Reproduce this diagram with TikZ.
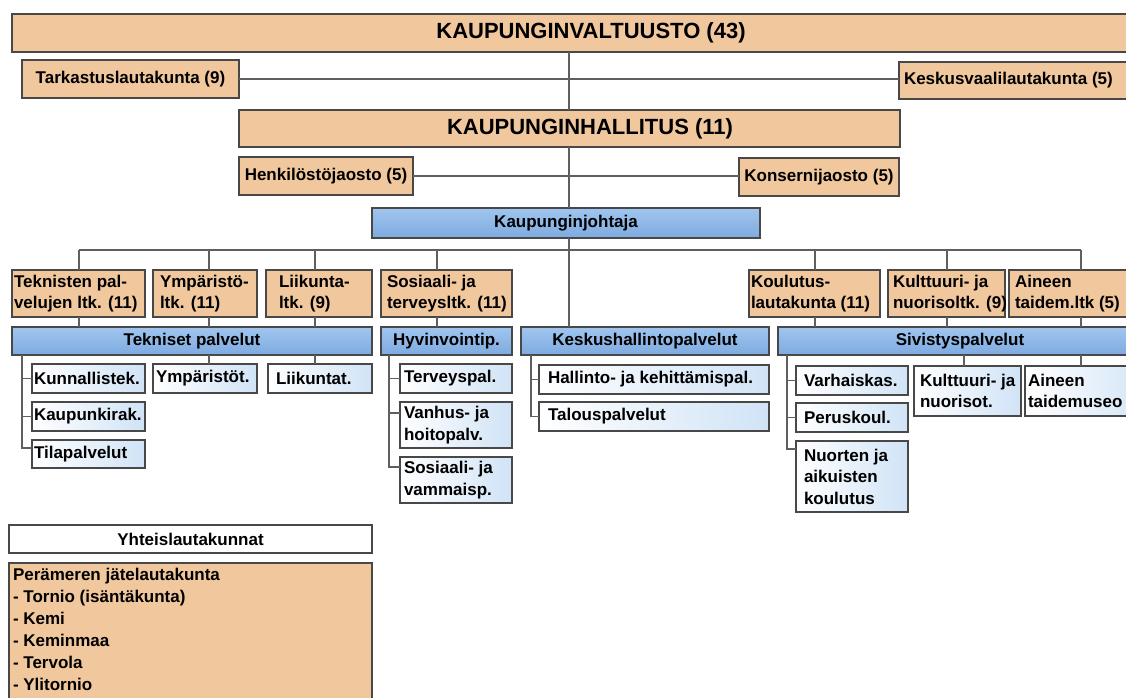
\documentclass[tikz,border=0pt]{standalone}
\usepackage{fontspec}
\setmainfont{Liberation Sans}
\definecolor{orgc}{RGB}{241,200,157}
\definecolor{bluT}{RGB}{160,198,238}
\definecolor{bluB}{RGB}{126,170,224}
\definecolor{subR}{RGB}{208,227,246}
\definecolor{bordc}{RGB}{72,72,72}
\definecolor{linec}{RGB}{95,95,95}
\newcommand\mybox[6]{\node[#2, minimum width=#5pt, minimum height=#6pt, anchor=north west] (#1) at (#3,#4) {};}
\begin{document}
\begin{tikzpicture}[x=1pt,y=-1pt,
  every node/.style={inner sep=0pt, outer sep=0pt},
  bx/.style={draw=bordc, line width=1.3pt},
  org/.style={bx, fill=orgc},
  blu/.style={bx, top color=bluT, bottom color=bluB},
  sub/.style={bx, left color=white, right color=subR},
  wht/.style={bx, fill=white},
  txt/.style={font=\fontsize{17}{21.5}\selectfont\bfseries, align=left, text=black},
  big/.style={font=\fontsize{22}{26}\selectfont\bfseries, text=black},
  con/.style={draw=linec, line width=1.2pt}]
\useasboundingbox (0,0) rectangle (1126,697);
\clip (0,0) rectangle (1126,697);
\fill[white] (0,0) rectangle (1126,697);

% ---------- boxes ----------
\mybox{top}{org}{12}{14}{1158}{38}
\mybox{tar}{org}{22}{60}{217}{38}
\mybox{kvl}{org}{899}{62}{240}{37}
\mybox{kh}{org}{239}{110}{661}{37}
\mybox{hen}{org}{239}{157}{174}{38}
\mybox{kon}{org}{739}{158}{160}{38}
\mybox{kj}{blu}{372}{208}{388}{30}

\mybox{tek}{org}{12}{270}{133}{47}
\mybox{ymp}{org}{153}{270}{104}{47}
\mybox{lii}{org}{266}{270}{106}{47}
\mybox{sos}{org}{381}{270}{131}{47}
\mybox{kou}{org}{749}{270}{131}{47}
\mybox{kul}{org}{888}{270}{117}{47}
\mybox{ain}{org}{1009}{270}{140}{47}

\mybox{tp}{blu}{12}{327}{360}{28}
\mybox{hyv}{blu}{381}{327}{131}{28}
\mybox{kes}{blu}{521}{327}{248}{28}
\mybox{siv}{blu}{778}{327}{364}{28}

\mybox{kun}{sub}{32}{364}{113}{29}
\mybox{kau}{sub}{32}{402}{113}{29}
\mybox{til}{sub}{32}{440}{113}{28}
\mybox{ympt}{sub}{153}{364}{104}{29}
\mybox{liit}{sub}{268}{364}{104}{29}
\mybox{ter}{sub}{400}{364}{112}{29}
\mybox{van}{sub}{400}{402}{112}{46}
\mybox{sosv}{sub}{400}{457}{112}{46}
\mybox{hal}{sub}{539}{365}{230}{29}
\mybox{tal}{sub}{539}{402}{230}{29}
\mybox{var}{sub}{796}{366}{112}{29}
\mybox{per}{sub}{796}{403}{112}{29}
\mybox{nuo}{sub}{796}{441}{112}{71}
\mybox{kuln}{sub}{914}{366}{107}{50}
\mybox{aint}{sub}{1025}{366}{130}{50}

\mybox{yht}{wht}{9}{525}{363}{28}
\mybox{pjl}{org}{9}{563}{363}{150}

% ---------- connectors ----------
\coordinate (vx) at (569,0);
\draw[con] (vx |- top.south) -- (vx |- kh.north);
\draw[con] (vx |- kh.south) -- (vx |- kj.north);
\draw[con] (vx |- kj.south) -- (vx |- kes.north);
\draw[con] (tar.east) -- (tar.east -| kvl.west);
\draw[con] (hen.east) -- (hen.east -| kon.west);

\coordinate (mL) at (79,250);
\coordinate (mR) at (1081,250);
\draw[con] (mL) -- (mR);
\coordinate (d1) at (79,250);
\coordinate (d2) at (209,250);
\coordinate (d3) at (315,250);
\coordinate (d4) at (437,250);
\coordinate (d5) at (815,250);
\coordinate (d6) at (947,250);
\coordinate (d7) at (1081,250);
\draw[con] (d1) -- (d1 |- tek.north);  \draw[con] (d1 |- tek.south) -- (d1 |- tp.north);
\draw[con] (d2) -- (d2 |- ymp.north);  \draw[con] (d2 |- ymp.south) -- (d2 |- tp.north);
\draw[con] (d3) -- (d3 |- lii.north);  \draw[con] (d3 |- lii.south) -- (d3 |- tp.north);
\draw[con] (d4) -- (d4 |- sos.north);  \draw[con] (d4 |- sos.south) -- (d4 |- hyv.north);
\draw[con] (d5) -- (d5 |- kou.north);  \draw[con] (d5 |- kou.south) -- (d5 |- siv.north);
\draw[con] (d6) -- (d6 |- kul.north);  \draw[con] (d6 |- kul.south) -- (d6 |- siv.north);
\draw[con] (d7) -- (d7 |- ain.north);  \draw[con] (d7 |- ain.south) -- (d7 |- siv.north);

% Tekniset palvelut
\coordinate (tT) at (22,0);
\path ([yshift=-8pt]til.north west) coordinate (tilS);
\draw[con] (tT |- tp.south) |- (tilS);
\draw[con] (tT |- kun.west) -- (kun.west);
\draw[con] (tT |- kau.west) -- (kau.west);
\coordinate (yT) at (209,0);
\draw[con] (yT |- tp.south) -- (yT |- ympt.north);
\coordinate (lT) at (315,0);
\draw[con] (lT |- tp.south) -- (lT |- liit.north);

% Hyvinvointip.
\coordinate (hT) at (389,0);
\path ([yshift=-10pt]sosv.north west) coordinate (sosS);
\path ([yshift=-11pt]van.north west) coordinate (vanS);
\draw[con] (hT |- hyv.south) |- (sosS);
\draw[con] (hT |- ter.west) -- (ter.west);
\draw[con] (hT |- vanS) -- (vanS);

% Keskushallintopalvelut
\coordinate (kT) at (531,0);
\draw[con] (kT |- kes.south) |- (tal.west);
\draw[con] (kT |- hal.west) -- (hal.west);

% Sivistyspalvelut
\coordinate (sT) at (787,0);
\path ([yshift=-8pt]nuo.north west) coordinate (nuoS);
\draw[con] (sT |- siv.south) |- (nuoS);
\draw[con] (sT |- var.west) -- (var.west);
\draw[con] (sT |- per.west) -- (per.west);
\coordinate (kuT) at (964,0);
\draw[con] (kuT |- siv.south) -- (kuT |- kuln.north);
\coordinate (aiT) at (1081,0);
\draw[con] (aiT |- siv.south) -- (aiT |- aint.north);

% ---------- texts ----------
\node[big] (topT) at (top.center) {KAUPUNGINVALTUUSTO (43)};
\node[txt] (tarT) at (tar.center) {Tarkastuslautakunta (9)};
\node[txt, anchor=west] (kvlT) at ([xshift=5pt]kvl.west) {Keskusvaalilautakunta (5)};
\node[big] (khT) at (590,128.5) {KAUPUNGINHALLITUS (11)};
\node[txt] (henT) at (hen.center) {Henkilöstöjaosto (5)};
\node[txt] (konT) at (kon.center) {Konsernijaosto (5)};
\node[txt] (kjT) at (kj.center) {Kaupunginjohtaja};

\node[txt, anchor=west] (tekT) at ([xshift=2pt]tek.west) {Teknisten pal-\\velujen ltk. (11)};
\node[txt, anchor=west] (ympT) at ([xshift=7pt]ymp.west) {Ympäristö-\\ltk. (11)};
\node[txt, anchor=west] (liiT) at ([xshift=13pt]lii.west) {Liikunta-\\ltk. (9)};
\node[txt, anchor=west] (sosT) at ([xshift=6pt]sos.west) {Sosiaali- ja\\terveysltk. (11)};
\node[txt, anchor=west] (kouT) at ([xshift=2pt]kou.west) {Koulutus-\\lautakunta (11)};
\node[txt, anchor=west] (kulT) at ([xshift=5pt]kul.west) {Kulttuuri- ja\\nuorisoltk. (9)};
\node[txt, anchor=west] (ainT) at ([xshift=6pt]ain.west) {Aineen\\taidem.ltk (5)};

\node[txt] (tpT) at (tp.center) {Tekniset palvelut};
\node[txt] (hyvT) at (hyv.center) {Hyvinvointip.};
\node[txt] (kesT) at (kes.center) {Keskushallintopalvelut};
\node[txt] (sivT) at (siv.center) {Sivistyspalvelut};

\node[txt, anchor=west] (kunT) at ([xshift=2pt]kun.west) {Kunnallistek.};
\node[txt, anchor=west] (kauT) at ([xshift=2pt]kau.west) {Kaupunkirak.};
\node[txt, anchor=west] (tilT) at ([xshift=2pt]til.west) {Tilapalvelut};
\node[txt, anchor=west] (ymptT) at ([xshift=3pt]ympt.west) {Ympäristöt.};
\node[txt, anchor=west] (liitT) at ([xshift=8pt]liit.west) {Liikuntat.};
\node[txt, anchor=west] (terT) at ([xshift=4pt]ter.west) {Terveyspal.};
\node[txt, anchor=west] (vanT) at ([xshift=4pt]van.west) {Vanhus- ja\\hoitopalv.};
\node[txt, anchor=west] (sosvT) at ([xshift=4pt]sosv.west) {Sosiaali- ja\\vammaisp.};
\node[txt, anchor=west] (halT) at ([xshift=9pt]hal.west) {Hallinto- ja kehittämispal.};
\node[txt, anchor=west] (talT) at ([xshift=9pt]tal.west) {Talouspalvelut};
\node[txt, anchor=west] (varT) at ([xshift=8pt]var.west) {Varhaiskas.};
\node[txt, anchor=west] (perT) at ([xshift=8pt]per.west) {Peruskoul.};
\node[txt, anchor=west] (nuoT) at ([xshift=8pt]nuo.west) {Nuorten ja\\aikuisten\\koulutus};
\node[txt, anchor=west] (kulnT) at ([xshift=6pt]kuln.west) {Kulttuuri- ja\\nuorisot.};
\node[txt, anchor=west] (aintT) at ([xshift=3pt]aint.west) {Aineen\\taidemuseo};

\node[txt] (yhtT) at (yht.center) {Yhteislautakunnat};
\node[font=\fontsize{17}{22}\selectfont\bfseries, align=left, anchor=north west] (pjlT) at (13,568.5)
  {Perämeren jätelautakunta\\- Tornio (isäntäkunta)\\- Kemi\\- Keminmaa\\- Tervola\\- Ylitornio};
\end{tikzpicture}
\end{document}
